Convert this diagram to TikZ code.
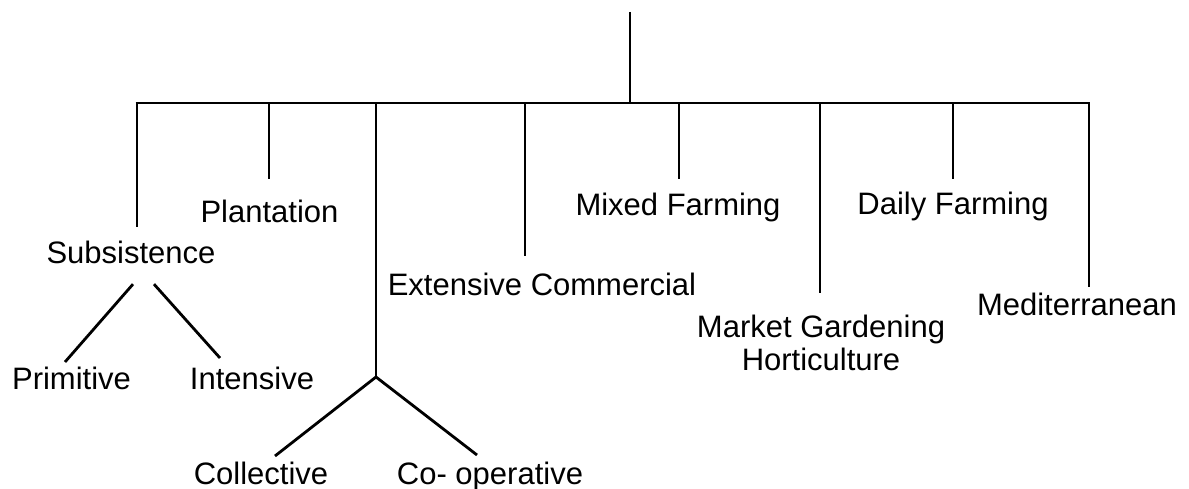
\documentclass[tikz,border=0pt]{standalone}
\usepackage{fontspec}
\setmainfont{Liberation Sans}
\usetikzlibrary{calc}
\begin{document}
\begin{tikzpicture}[x=1pt,y=-1pt,
  lbl/.style={inner sep=0pt, anchor=north, font=\fontsize{31}{33}\selectfont, align=center},
  conn/.style={line width=2.8pt, black}]
\useasboundingbox (0,0) rectangle (1189,489);
% labels
\node[lbl] (subs)  at (131,241)  {Subsistence};
\node[lbl] (plant) at (269.5,200) {Plantation};
\node[lbl] (ext)   at (542,273)  {Extensive Commercial};
\node[lbl] (mixed) at (678,193)  {Mixed Farming};
\node[lbl] (market) at (821,315) {Market Gardening\\Horticulture};
\node[lbl] (daily) at (953,192)  {Daily Farming};
\node[lbl] (med)   at (1077,293) {Mediterranean};
\node[lbl] (prim)  at (71.5,367) {Primitive};
\node[lbl] (inten) at (252,367)  {Intensive};
\node[lbl] (coll)  at (261,462)  {Collective};
\node[lbl] (coop)  at (490,462)  {Co- operative};
% skeleton
\coordinate (top) at (630,12);
\coordinate (hub) at (630,103);
\coordinate (b1) at (137,103);
\coordinate (b2) at (269,103);
\coordinate (b3) at (376,103);
\coordinate (b4) at (525,103);
\coordinate (b5) at (679,103);
\coordinate (b6) at (820,103);
\coordinate (b7) at (953,103);
\coordinate (b8) at (1089,103);
\coordinate (jn) at (376,377);
\draw[conn] (top) -- (hub);
\draw[conn] ([xshift=-1.4pt]b1) -- ([xshift=1.4pt]b8);
\draw[conn] (b1) -- ($(b1 |- subs.north)+(0,-14)$);
\draw[conn] (b2) -- ($(b2 |- plant.north)+(0,-21)$);
\draw[conn] (b3) -- (jn);
\draw[conn] (b4) -- ($(b4 |- ext.north)+(0,-17)$);
\draw[conn] (b5) -- ($(b5 |- mixed.north)+(0,-14)$);
\draw[conn] (b6) -- ($(b6 |- market.north)+(0,-22)$);
\draw[conn] (b7) -- ($(b7 |- daily.north)+(0,-13)$);
\draw[conn] (b8) -- ($(b8 |- med.north)+(0,-6)$);
% sub branches
\draw[conn] ($(subs.south)+(2,20)$) -- ($(prim.north)+(-6.5,-5)$);
\draw[conn] ($(subs.south)+(23,20)$) -- ($(inten.north)+(-32,-9)$);
\draw[conn] (jn) -- ($(coll.north)+(14,-6)$);
\draw[conn] (jn) -- ($(coop.north)+(-13,-7)$);
\end{tikzpicture}
\end{document}
